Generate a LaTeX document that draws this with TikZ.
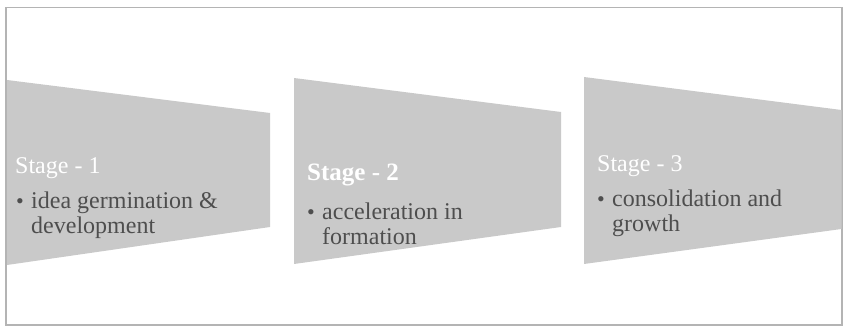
\documentclass[tikz,border=0pt]{standalone}
\usepackage{fontspec}
\setmainfont{Liberation Serif}
\definecolor{panelfill}{HTML}{C9C9C9}
\definecolor{bodytext}{HTML}{4E4E4E}
\definecolor{framecol}{HTML}{B4B4B4}
\begin{document}
\begin{tikzpicture}[x=1pt,y=-1pt,
  panel/.style={fill=panelfill,draw=none},
  stagetitle/.style={anchor=base west,inner sep=0pt,text=white,font=\fontsize{24}{26}\selectfont},
  bodyline/.style={anchor=base west,inner sep=0pt,text=bodytext,font=\fontsize{24}{26}\selectfont},
  bulletmark/.style={anchor=base west,inner sep=0pt,text=bodytext,font=\fontsize{22}{24}\selectfont}]
\useasboundingbox (0,0) rectangle (845,328);

% outer frame
\draw[framecol,line width=1.2pt] (6,7.5) rectangle (842,325);

% tapered stage panels
\fill[panel] (7,80) -- (270,113) -- (270,227) -- (7,265) -- cycle;
\fill[panel] (294,78) -- (561,112) -- (561,227) -- (294,264) -- cycle;
\fill[panel] (584,77) -- (841.5,110) -- (841.5,229) -- (584,264) -- cycle;

% stage 1
\node[stagetitle] (t1) at (15,174) {Stage - 1};
\node[bulletmark] (b1) at (16,209) {•};
\node[bodyline] (l1a) at (31,209) {idea germination \&};
\node[bodyline] (l1b) at (31,234) {development};

% stage 2
\node[stagetitle,font=\bfseries\fontsize{25}{27}\selectfont] (t2) at (307,181) {Stage - 2};
\node[bulletmark] (b2) at (307,220) {•};
\node[bodyline] (l2a) at (322,220) {acceleration in};
\node[bodyline] (l2b) at (322,245) {formation};

% stage 3
\node[stagetitle] (t3) at (597,172) {Stage - 3};
\node[bulletmark] (b3) at (597,207) {•};
\node[bodyline] (l3a) at (612,207) {consolidation and};
\node[bodyline] (l3b) at (612,232) {growth};
\end{tikzpicture}
\end{document}
